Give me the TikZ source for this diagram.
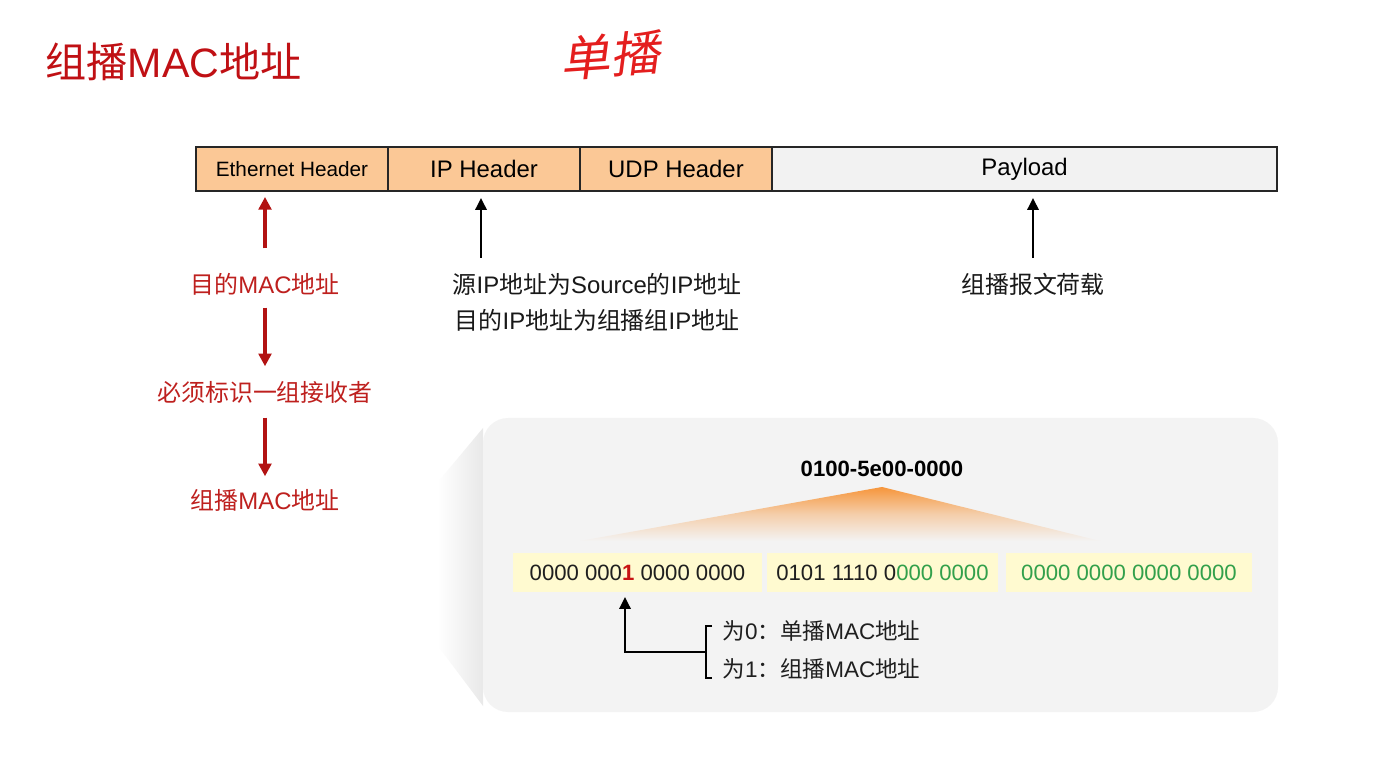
\documentclass[tikz,border=0pt]{standalone}
\usepackage{fontspec}
\setmainfont{Liberation Sans}
\newfontfamily\cjk{Noto Sans CJK SC}
\usetikzlibrary{arrows.meta}
\newcommand\zh[1]{{\cjk #1}}
\definecolor{titlered}{RGB}{192,16,20}
\definecolor{labred}{RGB}{190,32,30}
\definecolor{arrred}{RGB}{178,18,18}
\definecolor{inkred}{RGB}{228,30,30}
\definecolor{hdrorange}{RGB}{251,200,150}
\definecolor{paygray}{RGB}{242,242,242}
\definecolor{panelgray}{RGB}{243,243,243}
\definecolor{bitbg}{RGB}{255,250,208}
\definecolor{bitgreen}{RGB}{50,160,75}
\definecolor{bitred}{RGB}{200,20,20}
\definecolor{fanorange}{RGB}{246,150,60}
\begin{document}
\begin{tikzpicture}[x=0.01cm,y=-0.01cm,
  hdr/.style={draw=black!85, line width=0.55pt, fill=hdrorange, minimum height=0.44cm,
    inner sep=0pt, font=\fontsize{6.8}{8}\selectfont},
  redlab/.style={text=labred, inner sep=0pt, font=\fontsize{6.8}{8}\selectfont},
  blklab/.style={text=black!90, inner sep=0pt, font=\fontsize{6.8}{10.2}\selectfont, align=center},
  redarr/.style={draw=arrred, line width=0.9pt, -{Triangle[length=3.6pt,width=3.6pt]}},
  blkarr/.style={draw=black, line width=0.7pt, -{Triangle[length=3.4pt,width=3.2pt]}},
  bitbox/.style={fill=bitbg, minimum height=0.39cm, inner sep=0pt,
    text=black!88, font=\fontsize{6.3}{7.5}\selectfont},
  note/.style={anchor=west, inner sep=0pt, text=black!88, font=\fontsize{6.4}{7.5}\selectfont},
]
\useasboundingbox (0,0) rectangle (1400,758);
\fill[white] (0,0) rectangle (1400,758);

% title and ink annotation
\node[anchor=west, inner sep=0pt, text=titlered, font=\fontsize{11.7}{13}\selectfont]
  (title) at (45,62) {\zh{组播}MAC\zh{地址}};
\node[text=inkred, font=\cjk\fontsize{14}{16}\selectfont, xslant=0.2, rotate=4, transform shape]
  (ink) at (614,55) {单播};

% packet header bar
\node[hdr, minimum width=1.92cm, font=\fontsize{5.9}{7}\selectfont] (eth) at (292,169) {Ethernet Header};
\node[hdr, minimum width=1.92cm] (ip) at (484,169) {IP Header};
\node[hdr, minimum width=1.92cm] (udp) at (676,169) {UDP Header};
\node[hdr, minimum width=5.05cm, fill=paygray] (pay) at (1024.5,169) {Payload};

% destination MAC reasoning chain
\node[redlab] (dmac) at (265,284) {\zh{目的}MAC\zh{地址}};
\node[redlab] (recv) at (265,392) {\zh{必须标识一组接收者}};
\node[redlab] (gmac) at (265,500) {\zh{组播}MAC\zh{地址}};
\draw[redarr, shorten <=0.24cm, shorten >=0.05cm] (dmac.north) -- (dmac.north |- eth.south);
\draw[redarr, shorten <=0.12cm, shorten >=0.14cm] (dmac.south) -- (recv.north);
\draw[redarr, shorten <=0.14cm, shorten >=0.12cm] (recv.south) -- (gmac.north);

% IP header and payload notes
\node[blklab] (iplab) at (597,302)
  {\zh{源}IP\zh{地址为}Source\zh{的}IP\zh{地址}\\\zh{目的}IP\zh{地址为组播组}IP\zh{地址}};
\coordinate (iptail) at (481,258);
\draw[blkarr, shorten >=0.06cm] (iptail) -- (iptail |- ip.south);
\node[blklab] (plab) at (1033,284) {\zh{组播报文荷载}};
\draw[blkarr, shorten <=0.14cm, shorten >=0.06cm] (plab.north) -- (plab.north |- pay.south);

% detail panel with its soft side shadow
\shade[left color=white, right color=black!9] (438,482) -- (483,428) -- (483,706) -- (438,646) -- cycle;
\fill[panelgray, rounded corners=0.25cm] (483,418) rectangle (1278,712);

\node[inner sep=0pt, font=\bfseries\fontsize{6.3}{7.5}\selectfont] (mac) at (882,469) {0100-5e00-0000};
\shade[top color=fanorange, bottom color=panelgray, middle color=fanorange!40!panelgray]
  (882,487) -- (1100,541) -- (580,541) -- cycle;

\node[bitbox, minimum width=2.49cm] (b1) at (637.5,572.5)
  {0000 000\textcolor{bitred}{\textbf{1}} 0000 0000};
\node[bitbox, minimum width=2.31cm] (b2) at (882.5,572.5)
  {0101 1110 0\textcolor{bitgreen}{000 0000}};
\node[bitbox, minimum width=2.46cm, text=bitgreen] (b3) at (1129,572.5)
  {0000 0000 0000 0000};

% multicast bit explanation
\node[note] (u0) at (722,631) {\zh{为}0\zh{：单播}MAC\zh{地址}};
\node[note] (u1) at (722,669) {\zh{为}1\zh{：组播}MAC\zh{地址}};
\draw[line width=0.7pt] (712,626) -- (706,626) -- (706,678) -- (712,678);
\coordinate (brk) at (706,652);
\coordinate (bitone) at (625,597);
\draw[blkarr] (brk) -| (bitone);
\end{tikzpicture}
\end{document}
